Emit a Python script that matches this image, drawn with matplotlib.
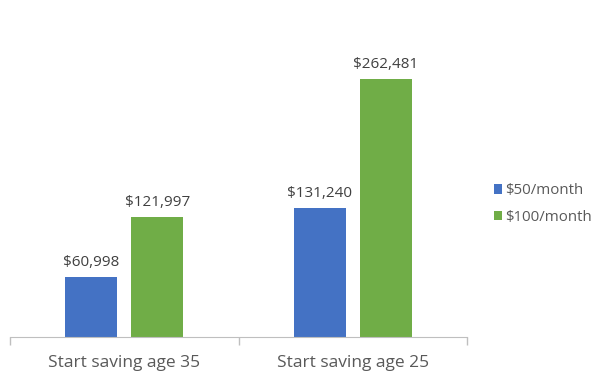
import numpy as np
import matplotlib.pyplot as plt

# Savings outcomes by starting age and monthly contribution
categories = ['Start saving age 35', 'Start saving age 25']
series_names = ['$50/month', '$100/month']
values_50 = [60998, 131240]
values_100 = [121997, 262481]
colors = ['#4472C4', '#70AD47']

plt.rcParams['font.family'] = ['Open Sans', 'DejaVu Sans']

fig = plt.figure(figsize=(6, 3.8), dpi=100)
ax = fig.add_axes([10 / 600, 43 / 380, 457 / 600, 320 / 380])

x = np.arange(len(categories))
width = 0.228
offset = 0.145

bars1 = ax.bar(x - offset, values_50, width, color=colors[0], label=series_names[0])
bars2 = ax.bar(x + offset, values_100, width, color=colors[1], label=series_names[1])

for bars in (bars1, bars2):
    ax.bar_label(bars, labels=['${:,}'.format(v) for v in bars.datavalues],
                 padding=5, fontsize=11, color='#404040')

ax.set_xlim(-0.5, 1.5)
ax.set_ylim(0, 325000)
ax.set_yticks([])

ax.set_xticks(x)
ax.set_xticklabels(categories, fontsize=12.5, color='#595959')
ax.tick_params(axis='x', which='major', length=0, pad=13)
ax.set_xticks([-0.5, 0.5, 1.5], minor=True)
ax.tick_params(axis='x', which='minor', length=6, color='#BFBFBF', width=1)

for side in ('top', 'right', 'left'):
    ax.spines[side].set_visible(False)
ax.spines['bottom'].set_color('#BFBFBF')

fig.legend(loc='center left', bbox_to_anchor=(480 / 600, 1 - 204 / 380),
           frameon=False, fontsize=10.8, handlelength=0.55, handleheight=0.6,
           handletextpad=0.25, labelspacing=0.75, labelcolor='#595959')

fig.savefig('out.png', dpi=100)
